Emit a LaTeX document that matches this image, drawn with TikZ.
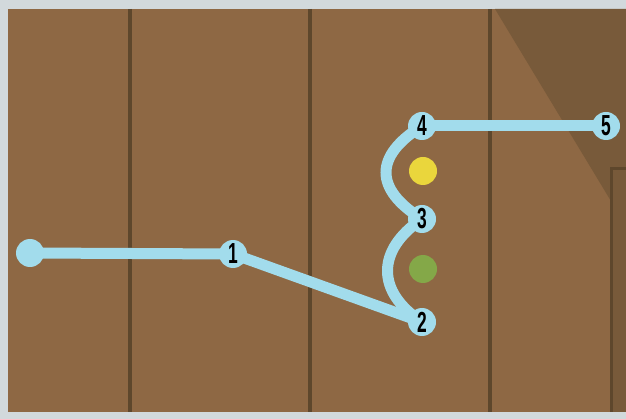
\documentclass[tikz,border=0pt]{standalone}
\usepackage{fontspec}
\setmainfont{Liberation Sans}
\pgfdeclarelayer{bg}
\pgfdeclarelayer{edges}
\pgfsetlayers{bg,edges,main}
\definecolor{frame}{HTML}{D2D9DC}
\definecolor{wood}{HTML}{8E6844}
\definecolor{wooddark}{HTML}{785A3A}
\definecolor{groove}{HTML}{5E472C}
\definecolor{route}{HTML}{A2DCEC}
\definecolor{ydot}{HTML}{EAD63C}
\definecolor{gdot}{HTML}{84A848}
\tikzset{
  stop/.style={circle, fill=route, minimum size=28pt, inner sep=0pt,
    font=\fontsize{29}{29}\selectfont\bfseries},
  routeline/.style={draw=route, line width=11pt},
  marker/.style={circle, minimum size=28pt, inner sep=0pt},
  groovel/.style={draw=groove, line width=4.5pt},
}
\newcommand{\num}[1]{\scalebox{0.6}[1]{#1}}
\begin{document}
\begin{tikzpicture}[x=1pt, y=-1pt]
\useasboundingbox (0,0) rectangle (626,419);
\begin{pgfonlayer}{bg}
  \fill[frame] (0,0) rectangle (626,419);
  \fill[wood] (8,9) rectangle (626,412);
  \fill[wooddark] (495,9) -- (626,9) -- (626,226) -- cycle;
  \draw[groovel] (130,9) -- (130,412);
  \draw[groovel] (310,9) -- (310,412);
  \draw[groovel] (490,9) -- (490,412);
  \fill[wooddark] (611,168) rectangle (626,412);
  \draw[groove, line width=3pt] (626,169) -- (611,169) -- (611,412);
\end{pgfonlayer}

\node[stop] (s) at (30,253) {};
\node[stop] (n1) at (233,254) {\num{1}};
\node[stop] (n2) at (422,322) {\num{2}};
\node[stop] (n3) at (422,219) {\num{3}};
\node[stop] (n4) at (422,126) {\num{4}};
\node[stop] (n5) at (606,126) {\num{5}};
\node[marker, fill=ydot] (y) at (423,171) {};
\node[marker, fill=gdot] (g) at (423,269) {};

\begin{pgfonlayer}{edges}
  \draw[routeline] (s.center) -- (n1.center);
  \draw[routeline] (n1.center) -- (n2.center);
  \draw[routeline] (n2.center) .. controls (376,292) and (376,250) .. (n3.center);
  \draw[routeline] (n3.center) .. controls (374,189) and (374,156) .. (n4.center);
  \draw[routeline] (n4.center) -- (n5.center);
\end{pgfonlayer}
\end{tikzpicture}
\end{document}
